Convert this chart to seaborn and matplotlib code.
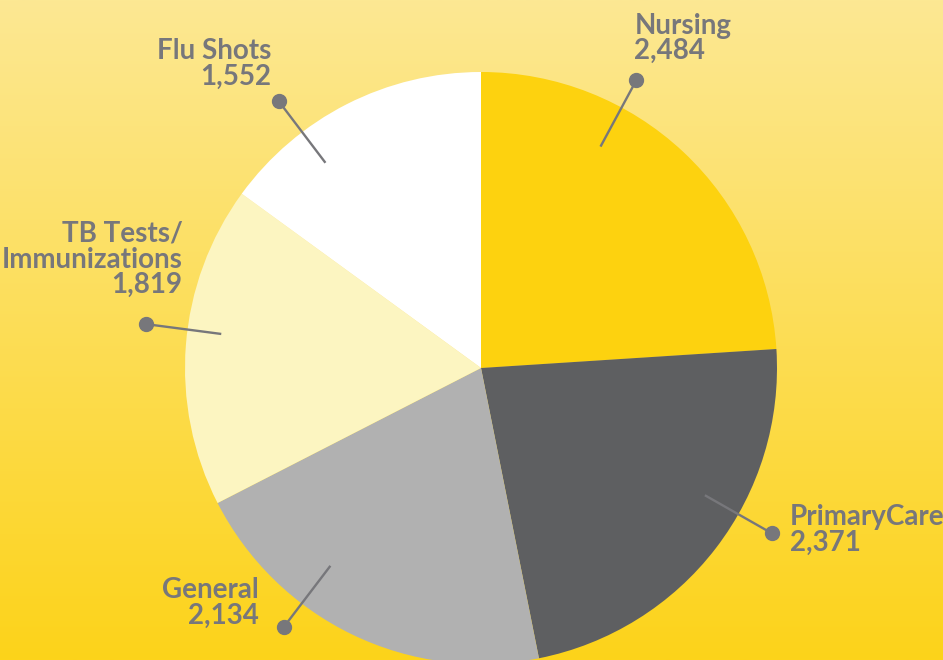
import numpy as np
import matplotlib
matplotlib.use("Agg")
import matplotlib.pyplot as plt
from matplotlib.colors import LinearSegmentedColormap
import seaborn as sns

# data
categories = ["Nursing", "PrimaryCare", "General", "TB Tests/\nImmunizations", "Flu Shots"]
visits = [2484, 2371, 2134, 1819, 1552]

# styling
slice_colors = ["#FDD20F", "#5E5F61", "#B1B1B1", "#FCF5C1", "#FFFFFF"]
text_gray = "#77777B"
# label layout: angular nudge (deg, ccw) from slice middle, leader radii, text offset (px)
label_nudge = [14.8, 7.9, -11.5, -3.0, 10.2]
inner_r = [0.85, 0.87, 0.84, 0.885, 0.87]
dot_r = [1.105, 1.13, 1.10, 1.14, 1.13]
text_offset = [(-2, 16), (18, 3), (-25, -2), (36, 26), (-8, 12)]
text_ha = ["left", "left", "right", "right", "right"]
text_va = ["bottom", "center", "bottom", "bottom", "bottom"]

sns.set_style("white")
plt.rcParams["font.family"] = ["Lato", "DejaVu Sans"]

W, H = 943, 660
cx, cy, r = 481, 368, 296
fig = plt.figure(figsize=(W / 100, H / 100), dpi=100)
ax = fig.add_axes([0, 0, 1, 1])
xlim = (-cx / r, (W - cx) / r)
ylim = (-(H - cy) / r, cy / r)

# background gradient (light at top, saturated yellow at bottom)
grad = np.linspace(0, 1, 256).reshape(-1, 1)
cmap = LinearSegmentedColormap.from_list("bg", ["#FCE893", "#FDD31A"])
ax.imshow(grad, cmap=cmap, aspect="auto", extent=(*xlim, *ylim), zorder=0)

wedges, _ = ax.pie(visits, colors=slice_colors, startangle=90,
                   counterclock=False, radius=1,
                   wedgeprops=dict(linewidth=0, zorder=1))

for i, w in enumerate(wedges):
    ang = np.deg2rad((w.theta1 + w.theta2) / 2 + label_nudge[i])
    x0, y0 = inner_r[i] * np.cos(ang), inner_r[i] * np.sin(ang)
    x1, y1 = dot_r[i] * np.cos(ang), dot_r[i] * np.sin(ang)
    ax.plot([x0, x1], [y0, y1], color=text_gray, lw=1.7, zorder=3,
            solid_capstyle="butt")
    ax.plot(x1, y1, "o", color=text_gray, ms=10, zorder=4)
    ax.annotate(f"{categories[i]}\n{visits[i]:,}", (x1, y1), xytext=text_offset[i],
                textcoords="offset pixels", ha=text_ha[i], va=text_va[i],
                multialignment=text_ha[i], linespacing=0.98, fontsize=20,
                fontweight="bold", color=text_gray, zorder=5)

ax.set_xlim(*xlim)
ax.set_ylim(*ylim)
ax.set_aspect("equal")
ax.axis("off")
fig.savefig("out.png", dpi=100)
